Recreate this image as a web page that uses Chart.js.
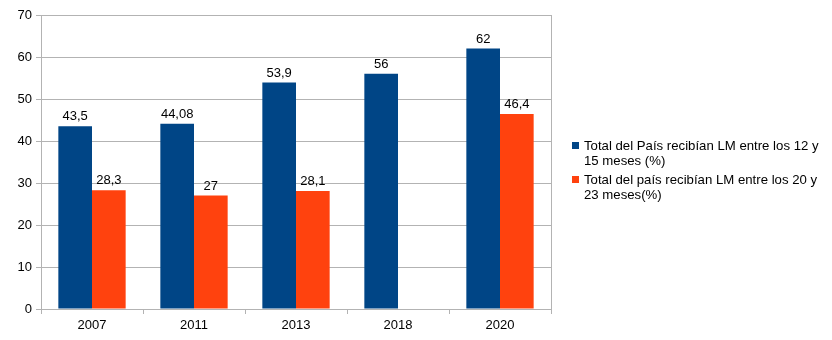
<!DOCTYPE html>
<html>
<head>
<meta charset="utf-8">
<script src="https://cdn.jsdelivr.net/npm/chart.js@4/dist/chart.umd.min.js"></script>
<style>
  html, body { margin: 0; padding: 0; background: #fff; }
  .wrap { position: relative; width: 832px; height: 340px; }
  .legend {
    position: absolute; left: 572px; top: 138px;
    font: 13.2px "Liberation Sans", Arial, sans-serif; color: #000;
  }
  .legend-item { position: relative; padding-left: 12px; width: 244px; line-height: 15px; margin-bottom: 4px; }
  .legend-item span.box { position: absolute; left: 0; top: 4px; width: 7px; height: 7px; }
</style>
</head>
<body>
<div class="wrap">
  <canvas id="chart" width="832" height="340"></canvas>
  <div class="legend" id="legend"></div>
</div>
<script>
const years = ["2007", "2011", "2013", "2018", "2020"];
const seriesA = [43.5, 44.08, 53.9, 56, 62];
const seriesB = [28.3, 27, 28.1, null, 46.4];
const labelA = "Total del País recibían LM entre los 12 y 15 meses (%)";
const labelB = "Total del país recibían LM entre los 20 y 23 meses(%)";
const yTicks = [0, 10, 20, 30, 40, 50, 60, 70];

const gridColor = "#b3b3b3";
const font = { family: "'Liberation Sans', Arial, sans-serif", size: 13 };

const valueLabels = {
  id: "valueLabels",
  afterDatasetsDraw(chart) {
    const ctx = chart.ctx;
    ctx.save();
    ctx.font = "13px 'Liberation Sans', Arial, sans-serif";
    ctx.fillStyle = "#000";
    ctx.textAlign = "center";
    ctx.textBaseline = "alphabetic";
    chart.data.datasets.forEach((ds, i) => {
      chart.getDatasetMeta(i).data.forEach((bar, j) => {
        const v = ds.data[j];
        if (v === null || v === undefined) return;
        ctx.fillText(String(v).replace(".", ","), bar.x, bar.y - 6);
      });
    });
    ctx.restore();
  },
};

const frame = {
  id: "frame",
  beforeDatasetsDraw(chart) {
    const a = chart.chartArea;
    const ctx = chart.ctx;
    ctx.save();
    ctx.strokeStyle = gridColor;
    ctx.lineWidth = 1;
    ctx.beginPath();
    ctx.moveTo(Math.round(a.right) + 0.5, a.top);
    ctx.lineTo(Math.round(a.right) + 0.5, a.bottom);
    ctx.stroke();
    ctx.restore();
  },
};

new Chart(document.getElementById("chart"), {
  type: "bar",
  data: {
    labels: years,
    datasets: [
      { label: labelA, data: seriesA, backgroundColor: "#004586" },
      { label: labelB, data: seriesB, backgroundColor: "#ff420e" },
    ],
  },
  options: {
    responsive: false,
    animation: false,
    layout: { padding: { left: 0, top: 15, right: 281, bottom: 0 } },
    plugins: { legend: { display: false }, tooltip: { enabled: false } },
    datasets: { bar: { categoryPercentage: 0.66, barPercentage: 1 } },
    scales: {
      x: {
        offset: true,
        grid: { color: gridColor, drawOnChartArea: false, tickLength: 5, offset: true },
        border: { color: gridColor },
        ticks: { color: "#000", font, padding: 4 },
        afterFit(scale) { scale.height = 31; },
      },
      y: {
        min: 0,
        max: 70,
        afterBuildTicks(scale) { scale.ticks = yTicks.map((v) => ({ value: v })); },
        grid: { color: gridColor, tickLength: 5 },
        border: { color: gridColor },
        ticks: { color: "#000", font, padding: 4 },
        afterFit(scale) { scale.width = 41; },
      },
    },
  },
  plugins: [valueLabels, frame],
});

const legend = document.getElementById("legend");
[[labelA, "#004586"], [labelB, "#ff420e"]].forEach(([text, color]) => {
  const item = document.createElement("div");
  item.className = "legend-item";
  const box = document.createElement("span");
  box.className = "box";
  box.style.background = color;
  item.appendChild(box);
  item.appendChild(document.createTextNode(text));
  legend.appendChild(item);
});
</script>
</body>
</html>
